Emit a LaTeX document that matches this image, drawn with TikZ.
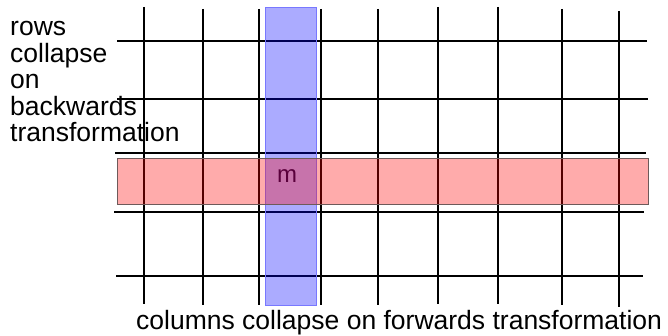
\documentclass[tikz,border=0pt]{standalone}
\usepackage{fontspec}
\setmainfont{Liberation Sans}
\begin{document}
\begin{tikzpicture}[x=1pt,y=-1pt,
  gridline/.style={black, line width=2.8pt},
  lbl/.style={inner sep=0pt, font=\fontsize{26.5}{26.5}\selectfont}]
\useasboundingbox (0,0) rectangle (668,336);
% vertical lines
\foreach \i/\x/\t/\b in {1/144/7/304,2/203/9/305,3/259/9/305,4/321/9/305,5/378/9/305,6/438/7/304,7/498/7/304,8/562/9/305,9/619/11/307}{
  \coordinate (vt\i) at (\x,\t);
  \coordinate (vb\i) at (\x,\b);
  \draw[gridline] (vt\i) -- (vb\i);
}
% horizontal lines
\foreach \i/\y/\l/\r in {1/41/117/647,2/99/117/648,3/153/115/646,4/212/114/644,5/276/116/643}{
  \coordinate (hl\i) at (\l,\y);
  \coordinate (hr\i) at (\r,\y);
  \draw[gridline] (hl\i) -- (hr\i);
}
% blue column
\node[draw={rgb,255:red,120;green,120;blue,255}, line width=1pt, fill={rgb,255:red,0;green,0;blue,255}, fill opacity=0.33, inner sep=0pt, minimum width=51pt, minimum height=297pt] (col) at (290.5,156.5) {};
% red row
\node[draw={rgb,255:red,110;green,90;blue,90}, line width=1pt, fill={rgb,255:red,255;green,0;blue,0}, fill opacity=0.33, inner sep=0pt, minimum width=531pt, minimum height=46pt] (row) at (382.5,182) {};
\node[lbl, font=\fontsize{24}{24}\selectfont, text={rgb,255:red,90;green,0;blue,60}, anchor=base] (m) at (287,183) {m};
\node[lbl, anchor=base west, align=left] (left) at (10,142) {rows\\collapse\\on\\backwards\\transformation};
\node[lbl, anchor=base west] (bottom) at (136,329) {columns collapse on forwards transformation};
\end{tikzpicture}
\end{document}
